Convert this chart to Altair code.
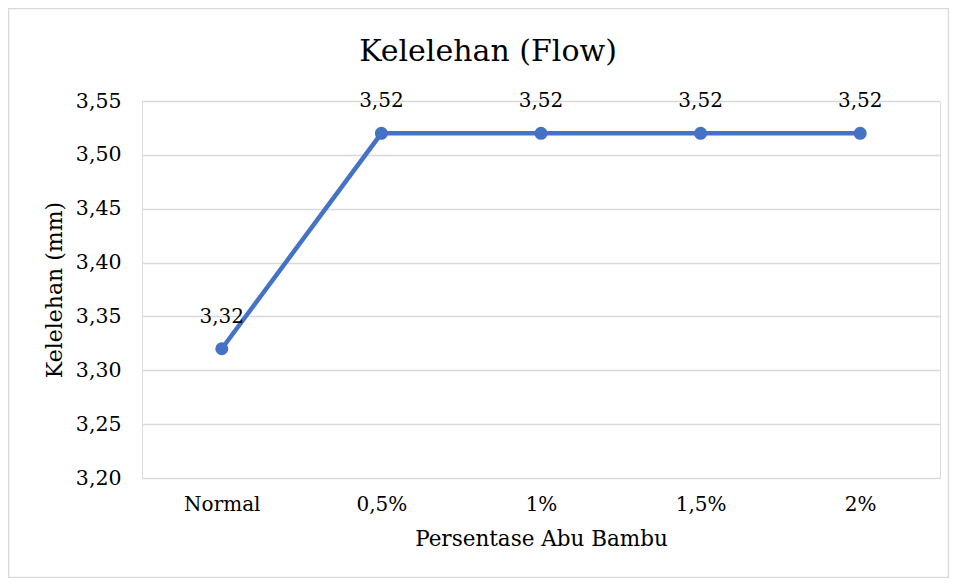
import altair as alt
import pandas as pd

categories = ["Normal", "0,5%", "1%", "1,5%", "2%"]
values = [3.32, 3.52, 3.52, 3.52, 3.52]
labels = ["3,32", "3,52", "3,52", "3,52", "3,52"]
title_text = ["Kelelehan (Flow)"]

df = pd.DataFrame({"cat": categories, "val": values, "lab": labels})

FONT = "DejaVu Serif"
BLUE = "#4472C4"
W, H = 798, 377

x = alt.X("cat:N", sort=categories, scale=alt.Scale(type="point", padding=0.5),
          axis=alt.Axis(title="Persentase Abu Bambu", labelAngle=0, ticks=False, domain=False,
                        grid=False, labelPadding=16, titlePadding=14,
                        labelFontSize=20, titleFontSize=21.5, labelFont=FONT, titleFont=FONT,
                        labelColor="black", titleColor="black", titleFontWeight="normal"))
y = alt.Y("val:Q", scale=alt.Scale(domain=[3.20, 3.55], nice=False, zero=False),
          axis=alt.Axis(title="Kelelehan (mm)", values=[3.20, 3.25, 3.30, 3.35, 3.40, 3.45, 3.50, 3.55],
                        labelExpr="replace(format(datum.value, '.2f'), '.', ',')",
                        ticks=False, domain=False, grid=True, gridColor="#d9d9d9", gridWidth=1.5,
                        labelPadding=21, titlePadding=9,
                        labelFontSize=20.5, titleFontSize=22, labelFont=FONT, titleFont=FONT,
                        labelColor="black", titleColor="black", titleFontWeight="normal"))

base = alt.Chart(df)

border = alt.Chart(pd.DataFrame({"a": [0]})).mark_rect(
    fill=None, stroke="#d9d9d9", strokeWidth=1.5, clip=False
).encode(x=alt.value(-133.5), x2=alt.value(W + 8.5), y=alt.value(-92.5), y2=alt.value(H + 99.5))

title = alt.Chart(pd.DataFrame({"t": title_text})).mark_text(
    font=FONT, fontSize=30, color="black", baseline="alphabetic", align="center"
).encode(x=alt.value(W / 2 - 53), y=alt.value(-40), text="t:N")

line = base.mark_line(color=BLUE, strokeWidth=4.5).encode(x=x, y=y)
pts = base.mark_circle(color=BLUE, size=170, opacity=1).encode(x=x, y=y)
txt = base.mark_text(font=FONT, fontSize=20, color="black", dy=-32).encode(x=x, y=y, text="lab:N")

chart = alt.layer(border, title, line, pts, txt).properties(
    width=W, height=H,
    autosize=alt.AutoSizeParams(type="none"),
    padding={"left": 134, "top": 93, "right": 9, "bottom": 100},
).configure_view(stroke=None).configure(background="white")

chart.save("out.html", embed_options={"renderer": "svg", "actions": False})
